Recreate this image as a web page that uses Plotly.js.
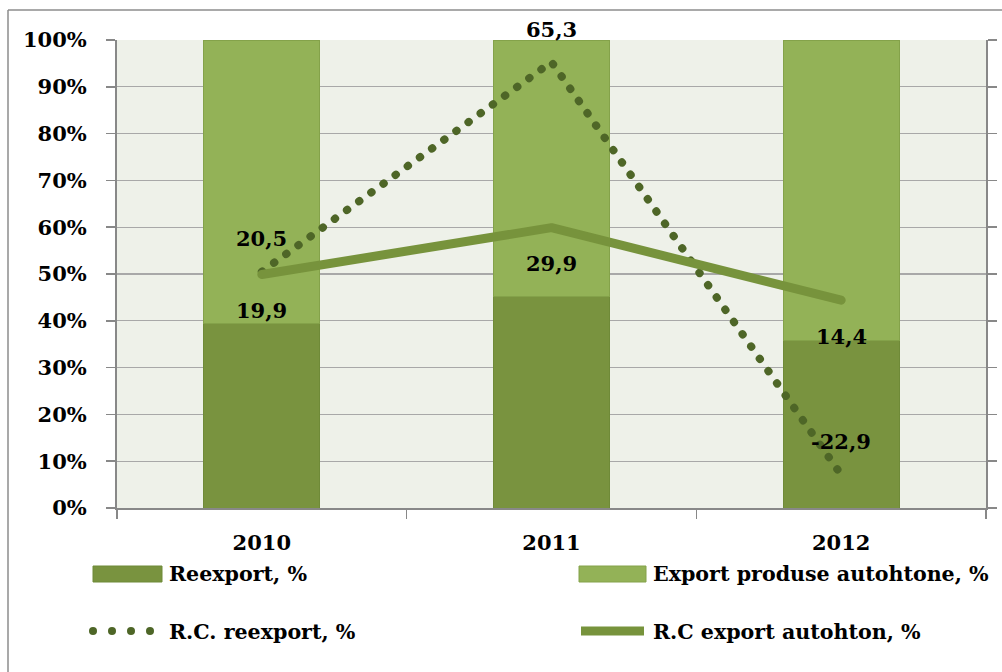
<!DOCTYPE html>
<html>
<head>
<meta charset="utf-8">
<script src="https://cdn.plot.ly/plotly-3.0.1.min.js"></script>
<style>
  html, body { margin: 0; padding: 0; background: #ffffff; }
  #chart { width: 1002px; height: 672px; }
</style>
</head>
<body>
<div id="chart"></div>
<script>
// ---- data ----
const years = ['2010', '2011', '2012'];
const reexportShare = [39.5, 45.3, 35.7];          // Reexport, %
const autohtonShare = [60.5, 54.7, 64.3];          // Export produse autohtone, %
const rcReexport = [20.5, 65.3, -22.9];            // R.C. reexport, %
const rcAutohton = [19.9, 29.9, 14.4];             // R.C export autohton, %
const seriesNames = ['Reexport, %', 'Export produse autohtone, %', 'R.C. reexport, %', 'R.C export autohton, %'];
const yTicks = [0, 10, 20, 30, 40, 50, 60, 70, 80, 90, 100];

// ---- styles ----
const DARK = '#79933F';
const LIGHT = '#93B257';
const DOT = '#4E6627';
const SOLID = '#77933C';
const AXIS = '#888888';
const FONT = 'DejaVu Serif, Liberation Serif, serif';

const W = 1002, H = 672, L = 117, R = 16, T = 40, B = 164;
const pw = W - L - R, ph = H - T - B;
const px = x => (x - L) / pw;
const py = y => (H - B - y) / ph;
const fmt = v => v.toFixed(1).replace('.', ',');

const traces = [
  { type: 'bar', x: years, y: reexportShare, name: seriesNames[0], width: 0.4,
    marker: { color: DARK, line: { color: '#6F8A38', width: 1 } }, showlegend: false },
  { type: 'bar', x: years, y: autohtonShare, name: seriesNames[1], width: 0.4,
    marker: { color: LIGHT, line: { color: '#84A24A', width: 1 } }, showlegend: false },
  { type: 'scatter', mode: 'lines', x: years, y: rcReexport, yaxis: 'y2', name: seriesNames[2],
    line: { color: DOT, width: 8, dash: '0.5px,14.5px' }, showlegend: false },
  { type: 'scatter', mode: 'lines', x: years, y: rcAutohton, yaxis: 'y2', name: seriesNames[3],
    line: { color: SOLID, width: 9 }, showlegend: false }
];

const labelFont = { family: FONT, size: 21, color: '#000', weight: 'bold' };
const annotations = [];
years.forEach((yr, i) => {
  annotations.push({ x: i, y: rcReexport[i], xref: 'x', yref: 'y2', text: fmt(rcReexport[i]),
    showarrow: false, yshift: 33, font: labelFont });
  annotations.push({ x: i, y: rcAutohton[i], xref: 'x', yref: 'y2', text: fmt(rcAutohton[i]),
    showarrow: false, yshift: -36, font: labelFont });
});

// manual legend (2 x 2)
const legendFont = { family: FONT, size: 20.6, color: '#000', weight: 'bold' };
const legendText = [
  { t: seriesNames[0], x: 167, y: 574 },
  { t: seriesNames[1], x: 651, y: 574 },
  { t: seriesNames[2], x: 167, y: 632 },
  { t: seriesNames[3], x: 651, y: 632 }
];
legendText.forEach(o => annotations.push({
  xref: 'paper', yref: 'paper', x: px(o.x), y: py(o.y), xanchor: 'left', yanchor: 'middle',
  text: o.t, showarrow: false, font: legendFont
}));

const shapes = [
  // chart outer border
  { type: 'line', xref: 'paper', yref: 'paper', x0: px(8), y0: py(10), x1: px(1002), y1: py(10), line: { color: '#8c8c8c', width: 1.5 } },
  { type: 'line', xref: 'paper', yref: 'paper', x0: px(8), y0: py(10), x1: px(8), y1: py(672), line: { color: '#8c8c8c', width: 1.5 } },
  // legend swatches
  { type: 'rect', xref: 'paper', yref: 'paper', x0: px(93), y0: py(566), x1: px(162), y1: py(582), fillcolor: DARK, line: { color: '#6F8A38', width: 1 } },
  { type: 'rect', xref: 'paper', yref: 'paper', x0: px(579), y0: py(566), x1: px(646), y1: py(582), fillcolor: LIGHT, line: { color: '#84A24A', width: 1 } },
  { type: 'line', xref: 'paper', yref: 'paper', x0: px(581), y0: py(631), x1: px(644), y1: py(631), line: { color: SOLID, width: 9 } }
];
[93, 112, 131, 150].forEach(cx => shapes.push({
  type: 'circle', xref: 'paper', yref: 'paper', x0: px(cx - 4), x1: px(cx + 4), y0: py(635), y1: py(627),
  fillcolor: DOT, line: { width: 0 }
}));

const layout = {
  width: W, height: H,
  margin: { l: L, r: R, t: T, b: B, pad: 0 },
  paper_bgcolor: '#ffffff',
  plot_bgcolor: '#EEF1E9',
  barmode: 'stack',
  showlegend: false,
  font: { family: FONT, color: '#000' },
  xaxis: {
    type: 'category', range: [-0.5, 2.5], autorange: false,
    showline: true, linecolor: AXIS, linewidth: 2,
    ticks: 'outside', tickson: 'boundaries', ticklen: 9, tickcolor: AXIS, tickwidth: 1.5,
    ticklabelstandoff: 15, tickangle: 0,
    tickfont: { family: FONT, size: 21, color: '#000', weight: 'bold' },
    showgrid: false, zeroline: false, fixedrange: true
  },
  yaxis: {
    range: [0, 100], autorange: false, tickvals: yTicks, ticktext: yTicks.map(v => v + '%'),
    showline: true, linecolor: AXIS, linewidth: 2,
    ticks: 'outside', ticklen: 9, tickcolor: AXIS, tickwidth: 1.5,
    ticklabelstandoff: 15,
    showgrid: true, gridcolor: '#A8A8A8', gridwidth: 1.2,
    zeroline: false,
    tickfont: { family: FONT, size: 21, color: '#000', weight: 'bold' },
    fixedrange: true
  },
  yaxis2: {
    overlaying: 'y', side: 'right', anchor: 'x', range: [-30, 70], autorange: false, dtick: 10, tick0: -30,
    showticklabels: false, showgrid: false, zeroline: false,
    showline: true, linecolor: AXIS, linewidth: 2,
    ticks: 'outside', ticklen: 9, tickcolor: AXIS, tickwidth: 1.5,
    fixedrange: true
  },
  annotations: annotations,
  shapes: shapes
};

Plotly.newPlot('chart', traces, layout, { staticPlot: true, displayModeBar: false }).then(gd => {
  gd.querySelectorAll('path.js-line').forEach(p => {
    p.style.strokeLinecap = 'round';
    p.style.strokeLinejoin = 'round';
  });
});
</script>
</body>
</html>
